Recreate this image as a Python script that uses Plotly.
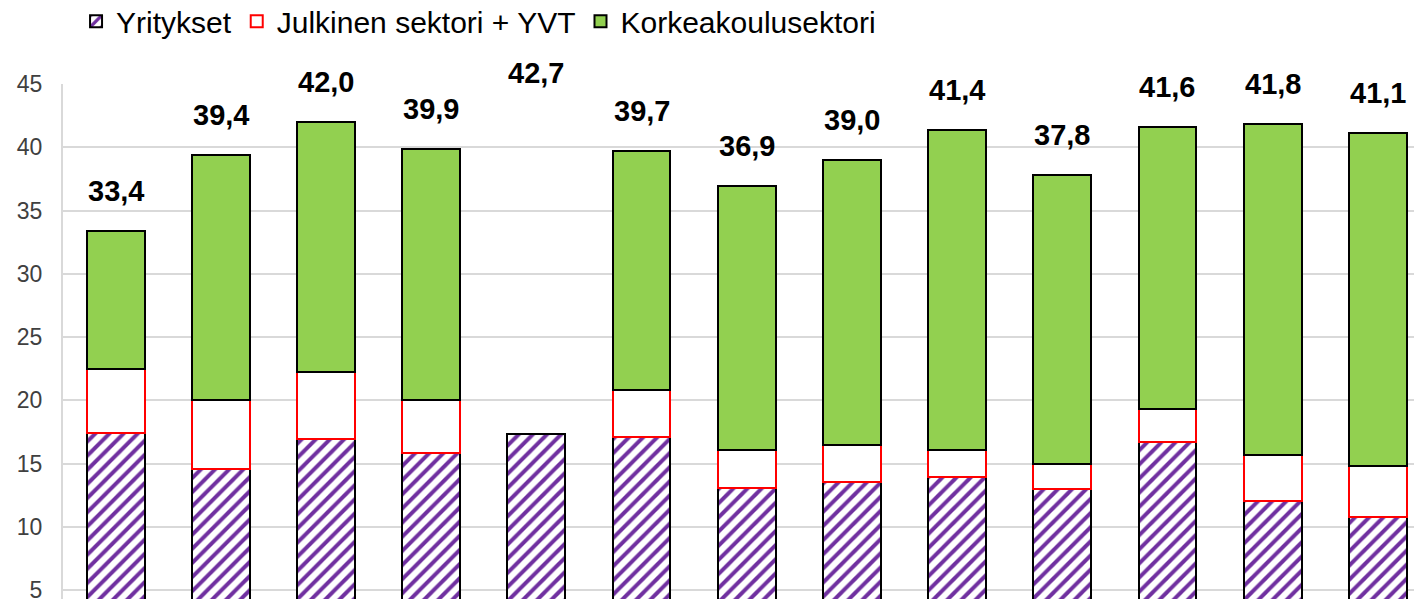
import plotly.graph_objects as go

categories = [str(i) for i in range(1, 14)]
yritykset = [17.4, 14.6, 16.9, 15.8, 17.3, 17.1, 13.1, 13.5, 13.9, 13.0, 16.7, 12.0, 10.8]
julkinen = [5.1, 5.4, 5.3, 4.2, None, 3.7, 3.0, 3.0, 2.2, 2.0, 2.6, 3.7, 4.0]
korkeakoulu = [10.9, 19.4, 19.8, 19.9, None, 18.9, 20.8, 22.5, 25.3, 22.8, 22.3, 26.1, 26.3]
totals = [33.4, 39.4, 42.0, 39.9, 42.7, 39.7, 36.9, 39.0, 41.4, 37.8, 41.6, 41.8, 41.1]
total_labels = ["33,4", "39,4", "42,0", "39,9", "42,7", "39,7", "36,9", "39,0",
                "41,4", "37,8", "41,6", "41,8", "41,1"]
y_ticks = [5, 10, 15, 20, 25, 30, 35, 40, 45]

xpos = list(range(len(categories)))
FONT = "Liberation Sans, Arial, sans-serif"

fig = go.Figure()
fig.add_trace(go.Bar(
    x=xpos, y=yritykset, name="Yritykset", width=0.55,
    marker=dict(color="white",
                line=dict(color="black", width=2),
                pattern=dict(shape="/", fgcolor="#7030A0", bgcolor="white",
                             size=10, solidity=0.4, fillmode="replace")),
))
fig.add_trace(go.Bar(
    x=xpos, y=julkinen, name="Julkinen sektori + YVT", width=0.55,
    marker=dict(color="white", line=dict(color="#FF0000", width=2)),
))
fig.add_trace(go.Bar(
    x=xpos, y=korkeakoulu, name="Korkeakoulusektori", width=0.55,
    marker=dict(color="#92D050", line=dict(color="black", width=2)),
))

for xi, t, lab in zip(xpos, totals, total_labels):
    fig.add_annotation(x=xi, y=t, text="<b>" + lab + "</b>", showarrow=False,
                       yanchor="bottom", yshift=22,
                       font=dict(family=FONT, size=29, color="black"))

fig.update_layout(
    barmode="stack",
    width=1422, height=599,
    margin=dict(l=55, r=8, t=76, b=8, autoexpand=False),
    paper_bgcolor="white", plot_bgcolor="white",
    font=dict(family=FONT, color="#404040"),
    showlegend=True,
    legend=dict(orientation="h", x=0.0096, xanchor="left",
                y=1.122, yref="paper", yanchor="middle",
                font=dict(family=FONT, size=30, color="black"),
                traceorder="normal", itemsizing="constant"),
)
fig.update_xaxes(range=[-0.5, 12.42], showticklabels=False, showgrid=False,
                 zeroline=False, showline=False, ticks="", automargin=False)
fig.update_yaxes(range=[4.29, 45], tickvals=y_ticks, showgrid=True,
                 gridcolor="#D9D9D9", gridwidth=2, zeroline=False,
                 showline=True, linecolor="#D9D9D9", linewidth=2,
                 ticks="", ticklabelstandoff=14, automargin=False,
                 tickfont=dict(family=FONT, size=23, color="#404040"))

fig.write_html("out.html")
